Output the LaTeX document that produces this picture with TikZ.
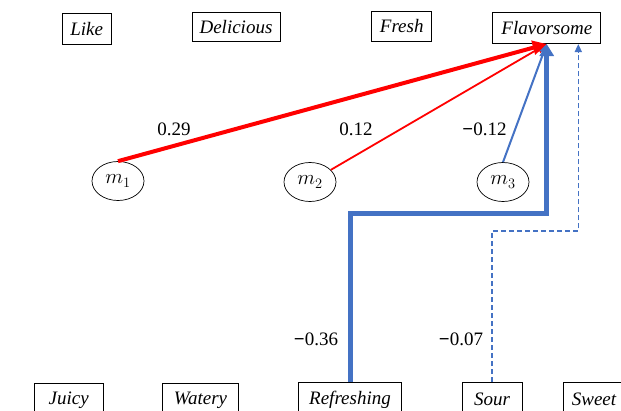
\documentclass[tikz,border=0pt]{standalone}
\usepackage{fontspec}
\setmainfont{Liberation Serif}
\newfontfamily\tnr{Liberation Serif}
\usetikzlibrary{arrows.meta,shapes.geometric,calc}
\definecolor{ofblue}{RGB}{68,114,196}
\newcommand{\mysign}{{\bfseries −}}
\begin{document}
\begin{tikzpicture}[x=1pt,y=-1pt,
  every node/.style={font=\tnr\fontsize{19}{22}\selectfont},
  attr/.style={draw=black, line width=0.8pt, minimum height=31pt, inner sep=0pt, font=\tnr\fontsize{19}{22}\selectfont\itshape},
  battr/.style={attr, minimum height=34pt, anchor=north},
  latent/.style={draw=black, ellipse, line width=0.7pt, minimum width=52pt, minimum height=39pt, inner sep=0pt, font=\fontsize{20}{24}\selectfont},
  wlabel/.style={inner sep=0pt},
  redthick/.style={draw=red, line width=4pt, -{Triangle[length=14pt,width=14pt]}},
  redthin/.style={draw=red, line width=1.8pt, -{Triangle[length=10pt,width=9pt]}},
  bluethick/.style={draw=ofblue, line width=5pt, line join=miter, -{Triangle[length=12pt,width=14pt]}},
  bluethin/.style={draw=ofblue, line width=2pt, -{Triangle[length=9pt,width=8pt]}},
  bluedash/.style={draw=ofblue, line width=1.6pt, dashed, dash pattern=on 5pt off 3pt, -{Triangle[length=8pt,width=7pt]}}
]
\useasboundingbox (0,0) rectangle (621,410);
% top attribute boxes
\node[attr, minimum width=48.7pt] (like) at (86.7,28.8) {Like};
\node[attr, minimum width=88pt, minimum height=29.5pt] (delicious) at (236,27) {Delicious};
\node[attr, minimum width=60pt, minimum height=30pt] (fresh) at (401.7,26) {Fresh};
\node[attr, minimum width=108pt] (flav) at (546.8,27.8) {Flavorsome};
% bottom attribute boxes
\node[battr, minimum width=69pt] (juicy) at (68.7,382.5) {Juicy};
\node[battr, minimum width=75.6pt] (watery) at (200.5,382.5) {Watery};
\node[battr, minimum width=103pt] (refresh) at (350,382) {Refreshing};
\node[battr, minimum width=60pt] (sour) at (492,382) {Sour};
\node[battr, minimum width=62pt] (sweet) at (594,382) {Sweet};
% latent nodes
\node[latent] (m1) at (118,181) {$m_1$};
\node[latent] (m2) at (310,182) {$m_2$};
\node[latent] (m3) at (503,182) {$m_3$};
% coordinates
\coordinate (tipA) at (546.7,44);
\coordinate (tipB) at (578.3,44);
\coordinate (bendA) at (546.7,213);
\coordinate (bendB) at (578.3,231);
% connectors
\draw[redthick] (m1.north) -- (tipA);
\draw[redthin] (m2) -- (tipA);
\draw[bluethin] (m3.north) -- (tipA);
\draw[bluethick] (refresh.north) |- (bendA) -- (tipA);
\draw[bluedash] (sour.north) |- (bendB) -- (tipB);
% labels
\node[wlabel] (l1) at (174,129) {0.29};
\node[wlabel] (l2) at (356,129) {0.12};
\node[wlabel] (l3) at (484.5,129) {\mysign0.12};
\node[wlabel] (l4) at (316,339) {\mysign0.36};
\node[wlabel] (l5) at (461,339) {\mysign0.07};
\end{tikzpicture}
\end{document}
